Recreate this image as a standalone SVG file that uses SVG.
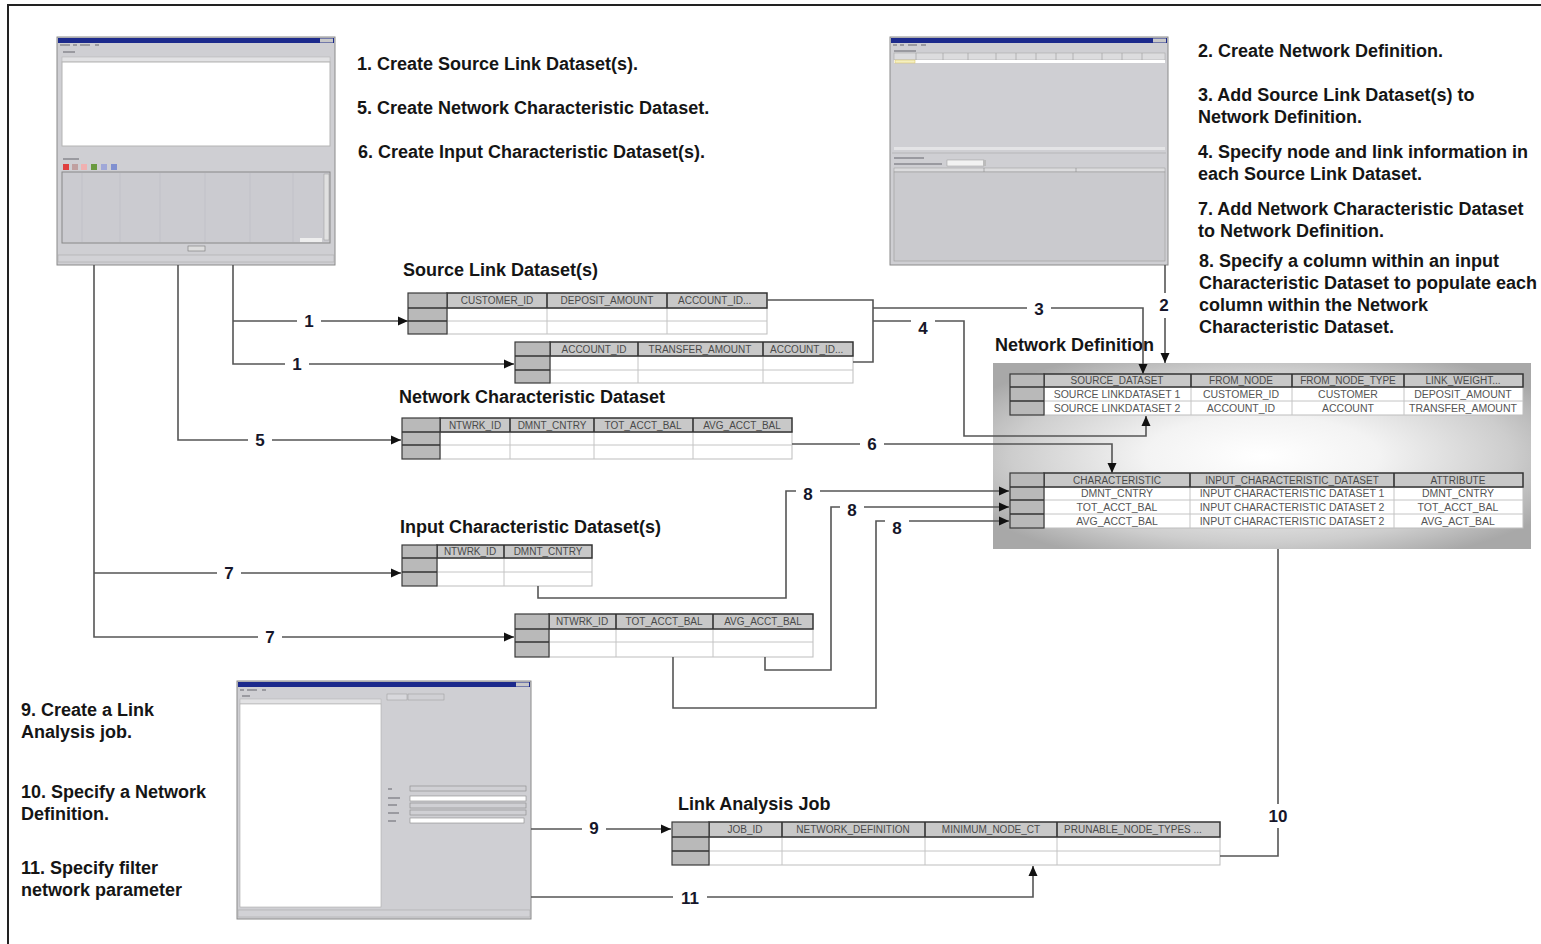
<svg xmlns="http://www.w3.org/2000/svg" width="1541" height="944" viewBox="0 0 1541 944">
<style>
.t{font-family:'Liberation Sans',Arial,sans-serif;font-weight:bold;font-size:18px;fill:#151515}
.lbl{font-family:'Liberation Sans',Arial,sans-serif;font-weight:bold;font-size:17px;fill:#16162a;text-anchor:middle}
.hd{font-family:'Liberation Sans',Arial,sans-serif;font-size:10px;fill:#4a4a4a;text-anchor:middle}
.cell{font-family:'Liberation Sans',Arial,sans-serif;font-size:10.5px;fill:#555;text-anchor:middle}
.stub{fill:#b9b9b9;stroke:#3a3a3a;stroke-width:1.2}
.hdr{fill:#c8c8c8;stroke:#333;stroke-width:1.5}
.data{fill:#fff;stroke:#bdbdbd;stroke-width:1}
.grid{stroke:#c4c4c4;stroke-width:1}
.dk{stroke:#333;stroke-width:1.6}
.conn{fill:none;stroke:#555;stroke-width:1.6}
.bg{fill:#fff}
.win{fill:#cfcfd3;stroke:#8a8a8a;stroke-width:1}
.ttl{fill:#1c2a8c}
.blur{fill:#9a9aa0}
</style>
<defs>
<marker id="arr" markerWidth="11" markerHeight="10" refX="10" refY="5" orient="auto" markerUnits="userSpaceOnUse">
<path d="M0,0.5 L10,5 L0,9.5 z" fill="#111"/>
</marker>
<radialGradient id="ndg" cx="0.5" cy="0.5" r="0.62">
<stop offset="0" stop-color="#ffffff"/>
<stop offset="0.35" stop-color="#f3f3f3"/>
<stop offset="0.75" stop-color="#cdcdcd"/>
<stop offset="1" stop-color="#a8a8a8"/>
</radialGradient>
</defs>
<rect x="0" y="0" width="1541" height="944" fill="#fff"/>
<path d="M8,944 V5 H1541" fill="none" stroke="#222" stroke-width="2"/>

<!-- Screenshot 1 -->
<g id="win-datasets">
<rect class="win" x="57" y="37" width="278" height="228"/>
<rect class="ttl" x="58" y="38" width="276" height="5"/>
<rect x="320" y="38.5" width="13" height="4" fill="#c8c8c8"/>
<rect class="blur" x="60" y="44" width="10" height="2"/><rect class="blur" x="73" y="44" width="4" height="2"/><rect class="blur" x="80" y="44" width="10" height="2"/><rect class="blur" x="95" y="44" width="4" height="2"/>
<rect class="blur" x="63" y="51" width="12" height="2"/>
<rect x="62" y="57" width="268" height="5" fill="#e2e2e4" stroke="#b0b0b0" stroke-width="0.5"/>
<rect x="62" y="62" width="268" height="84" fill="#fff" stroke="#b4b4b4"/>
<rect class="blur" x="63" y="158" width="16" height="2"/>
<rect x="63" y="164" width="6" height="6" fill="#e04040"/><rect x="72" y="164" width="6" height="6" fill="#c0a0a0"/><rect x="81" y="164" width="6" height="6" fill="#f0b0b0"/><rect x="91" y="164" width="6" height="6" fill="#6a9a40"/><rect x="101" y="164" width="6" height="6" fill="#a0a8d8"/><rect x="111" y="164" width="6" height="6" fill="#8090d0"/>
<rect x="62" y="172" width="268" height="71" fill="#cbcbd0" stroke="#888"/>
<g stroke="#bdbdc3" stroke-width="0.6"><line x1="82" y1="173" x2="82" y2="242"/><line x1="120" y1="173" x2="120" y2="242"/><line x1="160" y1="173" x2="160" y2="242"/><line x1="205" y1="173" x2="205" y2="242"/><line x1="250" y1="173" x2="250" y2="242"/><line x1="293" y1="173" x2="293" y2="242"/></g>
<rect x="324" y="174" width="5" height="66" fill="#e0e0e0" stroke="#999" stroke-width="0.5"/>
<rect x="300" y="238" width="22" height="4" fill="#eee"/>
<rect x="188" y="246" width="17" height="5" fill="#ddd" stroke="#777" stroke-width="0.6"/>
<rect x="58" y="255" width="276" height="7" fill="#d2d2d6" stroke="#aaa" stroke-width="0.6"/>
</g>

<!-- Screenshot 2 -->
<g id="win-network-definition">
<rect class="win" x="890" y="37" width="278" height="228"/>
<rect class="ttl" x="891" y="38" width="276" height="5"/>
<rect x="1153" y="38.5" width="13" height="4" fill="#c8c8c8"/>
<rect class="blur" x="893" y="44" width="4" height="2"/><rect class="blur" x="900" y="44" width="4" height="2"/><rect class="blur" x="908" y="44" width="9" height="2"/><rect class="blur" x="921" y="44" width="5" height="2"/>
<rect class="blur" x="894" y="50" width="22" height="2"/>
<rect x="894" y="53" width="271" height="7" fill="#dcdcde" stroke="#a0a0a0" stroke-width="0.5"/>
<g stroke="#999" stroke-width="0.6"><line x1="916" y1="53" x2="916" y2="60"/><line x1="943" y1="53" x2="943" y2="60"/><line x1="968" y1="53" x2="968" y2="60"/><line x1="996" y1="53" x2="996" y2="60"/><line x1="1016" y1="53" x2="1016" y2="60"/><line x1="1036" y1="53" x2="1036" y2="60"/><line x1="1056" y1="53" x2="1056" y2="60"/><line x1="1073" y1="53" x2="1073" y2="60"/><line x1="1102" y1="53" x2="1102" y2="60"/><line x1="1122" y1="53" x2="1122" y2="60"/><line x1="1142" y1="53" x2="1142" y2="60"/></g>
<rect x="894" y="60" width="271" height="3" fill="#fff"/>
<rect x="895" y="60" width="20" height="3" fill="#f5f0c0" stroke="#d8c060" stroke-width="0.5"/>
<rect x="894" y="147" width="271" height="3" fill="#e4e4e6"/>
<line x1="892" y1="153" x2="1166" y2="153" stroke="#aaa" stroke-width="0.6"/>
<rect class="blur" x="894" y="157" width="30" height="2"/>
<rect class="blur" x="894" y="163" width="48" height="2"/>
<rect x="947" y="160" width="37" height="6" fill="#f2f2f2" stroke="#999" stroke-width="0.5"/>
<rect x="983" y="160" width="3" height="6" fill="#bbb"/>
<rect x="894" y="168" width="271" height="4" fill="#dcdcde" stroke="#999" stroke-width="0.5"/>
<line x1="984" y1="168" x2="984" y2="172" stroke="#888" stroke-width="0.6"/><line x1="1076" y1="168" x2="1076" y2="172" stroke="#888" stroke-width="0.6"/>
<rect x="894" y="172" width="271" height="89" fill="#cacace" stroke="#999" stroke-width="0.6"/>
</g>

<!-- Screenshot 3 -->
<g id="win-link-analysis-job">
<rect class="win" x="237" y="681" width="294" height="238"/>
<rect class="ttl" x="238" y="682" width="292" height="5"/>
<rect x="516" y="682.5" width="13" height="4" fill="#c8c8c8"/>
<rect class="blur" x="240" y="689" width="4" height="2"/><rect class="blur" x="247" y="689" width="10" height="2"/><rect class="blur" x="262" y="689" width="4" height="2"/>
<rect class="blur" x="242" y="695" width="8" height="2"/>
<rect x="240" y="699" width="141" height="5" fill="#e2e2e4" stroke="#b0b0b0" stroke-width="0.5"/>
<rect x="240" y="704" width="141" height="203" fill="#fff" stroke="#aaa" stroke-width="0.6"/>
<rect x="387" y="694" width="20" height="6" fill="#d8d8dc" stroke="#999" stroke-width="0.5"/>
<rect x="408" y="694" width="36" height="6" fill="#d0d0d4" stroke="#999" stroke-width="0.5"/>
<rect class="blur" x="388" y="788" width="4" height="2"/><rect class="blur" x="388" y="797" width="12" height="2"/><rect class="blur" x="388" y="804" width="9" height="2"/><rect class="blur" x="388" y="812" width="11" height="2"/><rect class="blur" x="388" y="820" width="8" height="2"/>
<rect x="410" y="786" width="116" height="5" fill="#d0d0d4" stroke="#888" stroke-width="0.6"/>
<rect x="410" y="796" width="116" height="5" fill="#fff" stroke="#888" stroke-width="0.6"/>
<rect x="410" y="803" width="116" height="5" fill="#d0d0d4" stroke="#888" stroke-width="0.6"/>
<rect x="410" y="810" width="116" height="5" fill="#d0d0d4" stroke="#888" stroke-width="0.6"/>
<rect x="410" y="818" width="114" height="5" fill="#fff" stroke="#888" stroke-width="0.6"/>
<rect x="238" y="910" width="292" height="7" fill="#d2d2d6" stroke="#aaa" stroke-width="0.6"/>
</g>

<!-- Instruction texts -->
<g id="steps-top-left">
<text class="t" x="357" y="70">1. Create Source Link Dataset(s).</text>
<text class="t" x="357" y="114">5. Create Network Characteristic Dataset.</text>
<text class="t" x="358" y="158">6. Create Input Characteristic Dataset(s).</text>
</g>
<g id="steps-top-right">
<text class="t" x="1198" y="57">2. Create Network Definition.</text>
<text class="t" x="1198" y="101">3. Add Source Link Dataset(s) to</text>
<text class="t" x="1198" y="123">Network Definition.</text>
<text class="t" x="1198" y="158">4. Specify node and link information in</text>
<text class="t" x="1198" y="180">each Source Link Dataset.</text>
<text class="t" x="1198" y="215">7. Add Network Characteristic Dataset</text>
<text class="t" x="1198" y="237">to Network Definition.</text>
<text class="t" x="1199" y="267">8. Specify a column within an input</text>
<text class="t" x="1199" y="289">Characteristic Dataset to populate each</text>
<text class="t" x="1199" y="311">column within the Network</text>
<text class="t" x="1199" y="333">Characteristic Dataset.</text>
</g>
<g id="steps-bottom-left">
<text class="t" x="21" y="716">9. Create a Link</text>
<text class="t" x="21" y="738">Analysis job.</text>
<text class="t" x="21" y="798">10. Specify a Network</text>
<text class="t" x="21" y="820">Definition.</text>
<text class="t" x="21" y="874">11. Specify filter</text>
<text class="t" x="21" y="896">network parameter</text>
</g>

<!-- Source Link Dataset(s) -->
<g id="source-link-datasets">
<text class="t" x="403" y="276">Source Link Dataset(s)</text>
<rect class="data" x="447" y="308" width="320" height="26"/>
<line class="grid" x1="447" y1="321" x2="767" y2="321"/><line class="grid" x1="547" y1="308" x2="547" y2="334"/><line class="grid" x1="667" y1="308" x2="667" y2="334"/>
<rect class="hdr" x="447" y="293" width="320" height="15"/>
<line class="dk" x1="547" y1="293" x2="547" y2="308"/><line class="dk" x1="667" y1="293" x2="667" y2="308"/>
<rect class="stub" x="408" y="293" width="39" height="41"/>
<line class="dk" x1="408" y1="308" x2="447" y2="308"/><line class="dk" x1="408" y1="321" x2="447" y2="321"/>
<text class="hd" x="497" y="304">CUSTOMER_ID</text>
<text class="hd" x="607" y="304">DEPOSIT_AMOUNT</text>
<text class="hd" x="678" y="304" style="text-anchor:start">ACCOUNT_ID...</text>

<rect class="data" x="550" y="356" width="303" height="27"/>
<line class="grid" x1="550" y1="370" x2="853" y2="370"/><line class="grid" x1="638" y1="356" x2="638" y2="383"/><line class="grid" x1="763" y1="356" x2="763" y2="383"/>
<rect class="hdr" x="550" y="342" width="303" height="14"/>
<line class="dk" x1="638" y1="342" x2="638" y2="356"/><line class="dk" x1="763" y1="342" x2="763" y2="356"/>
<rect class="stub" x="515" y="342" width="35" height="41"/>
<line class="dk" x1="515" y1="356" x2="550" y2="356"/><line class="dk" x1="515" y1="370" x2="550" y2="370"/>
<text class="hd" x="594" y="352.5">ACCOUNT_ID</text>
<text class="hd" x="700" y="352.5">TRANSFER_AMOUNT</text>
<text class="hd" x="770" y="352.5" style="text-anchor:start">ACCOUNT_ID...</text>
</g>

<!-- Network Characteristic Dataset -->
<g id="network-characteristic-dataset">
<text class="t" x="399" y="403">Network Characteristic Dataset</text>
<rect class="data" x="440" y="432" width="352" height="27"/>
<line class="grid" x1="440" y1="445" x2="792" y2="445"/><line class="grid" x1="510" y1="432" x2="510" y2="459"/><line class="grid" x1="594" y1="432" x2="594" y2="459"/><line class="grid" x1="693" y1="432" x2="693" y2="459"/>
<rect class="hdr" x="440" y="418" width="352" height="14"/>
<line class="dk" x1="510" y1="418" x2="510" y2="432"/><line class="dk" x1="594" y1="418" x2="594" y2="432"/><line class="dk" x1="693" y1="418" x2="693" y2="432"/>
<rect class="stub" x="402" y="418" width="38" height="41"/>
<line class="dk" x1="402" y1="432" x2="440" y2="432"/><line class="dk" x1="402" y1="445" x2="440" y2="445"/>
<text class="hd" x="475" y="428.5">NTWRK_ID</text>
<text class="hd" x="552" y="428.5">DMNT_CNTRY</text>
<text class="hd" x="643" y="428.5">TOT_ACCT_BAL</text>
<text class="hd" x="742" y="428.5">AVG_ACCT_BAL</text>
</g>

<!-- Input Characteristic Dataset(s) -->
<g id="input-characteristic-datasets">
<text class="t" x="400" y="533">Input Characteristic Dataset(s)</text>
<rect class="data" x="437" y="558" width="155" height="28"/>
<line class="grid" x1="437" y1="572" x2="592" y2="572"/><line class="grid" x1="504" y1="558" x2="504" y2="586"/>
<rect class="hdr" x="437" y="545" width="155" height="13"/>
<line class="dk" x1="504" y1="545" x2="504" y2="558"/>
<rect class="stub" x="402" y="545" width="35" height="41"/>
<line class="dk" x1="402" y1="558" x2="437" y2="558"/><line class="dk" x1="402" y1="572" x2="437" y2="572"/>
<text class="hd" x="470" y="555">NTWRK_ID</text>
<text class="hd" x="548" y="555">DMNT_CNTRY</text>

<rect class="data" x="549" y="629" width="264" height="28"/>
<line class="grid" x1="549" y1="642" x2="813" y2="642"/><line class="grid" x1="616" y1="629" x2="616" y2="657"/><line class="grid" x1="713" y1="629" x2="713" y2="657"/>
<rect class="hdr" x="549" y="614" width="264" height="15"/>
<line class="dk" x1="616" y1="614" x2="616" y2="629"/><line class="dk" x1="713" y1="614" x2="713" y2="629"/>
<rect class="stub" x="515" y="614" width="34" height="43"/>
<line class="dk" x1="515" y1="629" x2="549" y2="629"/><line class="dk" x1="515" y1="642" x2="549" y2="642"/>
<text class="hd" x="582" y="625">NTWRK_ID</text>
<text class="hd" x="664" y="625">TOT_ACCT_BAL</text>
<text class="hd" x="763" y="625">AVG_ACCT_BAL</text>
</g>

<!-- Network Definition -->
<g id="network-definition">
<text class="t" x="995" y="351">Network Definition</text>
<rect x="993" y="363" width="538" height="186" fill="url(#ndg)"/>
<rect class="data" x="1044" y="387" width="479" height="28"/>
<line class="grid" x1="1044" y1="401" x2="1523" y2="401"/><line class="grid" x1="1191" y1="387" x2="1191" y2="415"/><line class="grid" x1="1292" y1="387" x2="1292" y2="415"/><line class="grid" x1="1404" y1="387" x2="1404" y2="415"/>
<rect class="hdr" x="1044" y="374" width="479" height="13"/>
<line class="dk" x1="1191" y1="374" x2="1191" y2="387"/><line class="dk" x1="1292" y1="374" x2="1292" y2="387"/><line class="dk" x1="1404" y1="374" x2="1404" y2="387"/>
<rect class="stub" x="1010" y="374" width="34" height="41"/>
<line class="dk" x1="1010" y1="387" x2="1044" y2="387"/><line class="dk" x1="1010" y1="401" x2="1044" y2="401"/>
<text class="hd" x="1117" y="384">SOURCE_DATASET</text>
<text class="hd" x="1241" y="384">FROM_NODE</text>
<text class="hd" x="1348" y="384">FROM_NODE_TYPE</text>
<text class="hd" x="1463" y="384">LINK_WEIGHT...</text>
<text class="cell" x="1117" y="398">SOURCE LINKDATASET 1</text>
<text class="cell" x="1241" y="398">CUSTOMER_ID</text>
<text class="cell" x="1348" y="398">CUSTOMER</text>
<text class="cell" x="1463" y="398">DEPOSIT_AMOUNT</text>
<text class="cell" x="1117" y="412">SOURCE LINKDATASET 2</text>
<text class="cell" x="1241" y="412">ACCOUNT_ID</text>
<text class="cell" x="1348" y="412">ACCOUNT</text>
<text class="cell" x="1463" y="412">TRANSFER_AMOUNT</text>

<rect class="data" x="1044" y="487" width="479" height="41"/>
<line class="grid" x1="1044" y1="500" x2="1523" y2="500"/><line class="grid" x1="1044" y1="514" x2="1523" y2="514"/><line class="grid" x1="1190" y1="487" x2="1190" y2="528"/><line class="grid" x1="1394" y1="487" x2="1394" y2="528"/>
<rect class="hdr" x="1044" y="473" width="479" height="14"/>
<line class="dk" x1="1190" y1="473" x2="1190" y2="487"/><line class="dk" x1="1394" y1="473" x2="1394" y2="487"/>
<rect class="stub" x="1010" y="473" width="34" height="55"/>
<line class="dk" x1="1010" y1="487" x2="1044" y2="487"/><line class="dk" x1="1010" y1="500" x2="1044" y2="500"/><line class="dk" x1="1010" y1="514" x2="1044" y2="514"/>
<text class="hd" x="1117" y="483.5">CHARACTERISTIC</text>
<text class="hd" x="1292" y="483.5">INPUT_CHARACTERISTIC_DATASET</text>
<text class="hd" x="1458" y="483.5">ATTRIBUTE</text>
<text class="cell" x="1117" y="497">DMNT_CNTRY</text>
<text class="cell" x="1292" y="497">INPUT CHARACTERISTIC DATASET 1</text>
<text class="cell" x="1458" y="497">DMNT_CNTRY</text>
<text class="cell" x="1117" y="511">TOT_ACCT_BAL</text>
<text class="cell" x="1292" y="511">INPUT CHARACTERISTIC DATASET 2</text>
<text class="cell" x="1458" y="511">TOT_ACCT_BAL</text>
<text class="cell" x="1117" y="525">AVG_ACCT_BAL</text>
<text class="cell" x="1292" y="525">INPUT CHARACTERISTIC DATASET 2</text>
<text class="cell" x="1458" y="525">AVG_ACT_BAL</text>
</g>

<!-- Link Analysis Job -->
<g id="link-analysis-job">
<text class="t" x="678" y="810">Link Analysis Job</text>
<rect class="data" x="709" y="837" width="511" height="28"/>
<line class="grid" x1="709" y1="851" x2="1220" y2="851"/><line class="grid" x1="782" y1="837" x2="782" y2="865"/><line class="grid" x1="925" y1="837" x2="925" y2="865"/><line class="grid" x1="1057" y1="837" x2="1057" y2="865"/>
<rect class="hdr" x="709" y="822" width="511" height="15"/>
<line class="dk" x1="782" y1="822" x2="782" y2="837"/><line class="dk" x1="925" y1="822" x2="925" y2="837"/><line class="dk" x1="1057" y1="822" x2="1057" y2="837"/>
<rect class="stub" x="672" y="822" width="37" height="43"/>
<line class="dk" x1="672" y1="837" x2="709" y2="837"/><line class="dk" x1="672" y1="851" x2="709" y2="851"/>
<text class="hd" x="745" y="833">JOB_ID</text>
<text class="hd" x="853" y="833">NETWORK_DEFINITION</text>
<text class="hd" x="991" y="833">MINIMUM_NODE_CT</text>
<text class="hd" x="1133" y="833">PRUNABLE_NODE_TYPES ...</text>
</g>

<!-- Connectors -->
<g id="connectors">
<path class="conn" d="M233,265 V364 H514" marker-end="url(#arr)"/>
<path class="conn" d="M233,321 H408" marker-end="url(#arr)"/>
<path class="conn" d="M178,265 V440 H401" marker-end="url(#arr)"/>
<path class="conn" d="M94,265 V637 H514" marker-end="url(#arr)"/>
<path class="conn" d="M94,573 H401" marker-end="url(#arr)"/>
<path class="conn" d="M767,300 H873 V362 H853"/>
<path class="conn" d="M873,308 H1143 V374" marker-end="url(#arr)"/>
<path class="conn" d="M873,321 H964 V436 H1146 V416" marker-end="url(#arr)"/>
<path class="conn" d="M1165,265 V363" marker-end="url(#arr)"/>
<path class="conn" d="M792,444 H1112 V473" marker-end="url(#arr)"/>
<path class="conn" d="M538,586 V598 H786 V491 H1009" marker-end="url(#arr)"/>
<path class="conn" d="M765,657 V670 H831 V507 H1009" marker-end="url(#arr)"/>
<path class="conn" d="M673,657 V708 H876 V521 H1009" marker-end="url(#arr)"/>
<path class="conn" d="M531,829 H671" marker-end="url(#arr)"/>
<path class="conn" d="M531,897 H1033 V866" marker-end="url(#arr)"/>
<path class="conn" d="M1278,549 V856 H1220"/>

<rect class="bg" x="297" y="311" width="24" height="20"/><text class="lbl" x="309" y="327">1</text>
<rect class="bg" x="285" y="354" width="24" height="20"/><text class="lbl" x="297" y="370">1</text>
<rect class="bg" x="248" y="430" width="24" height="20"/><text class="lbl" x="260" y="446">5</text>
<rect class="bg" x="217" y="563" width="24" height="20"/><text class="lbl" x="229" y="579">7</text>
<rect class="bg" x="258" y="627" width="24" height="20"/><text class="lbl" x="270" y="643">7</text>
<rect class="bg" x="1027" y="299" width="24" height="20"/><text class="lbl" x="1039" y="315">3</text>
<rect class="bg" x="911" y="316" width="24" height="22"/><text class="lbl" x="923" y="334">4</text>
<rect class="bg" x="1154" y="293" width="20" height="25"/><text class="lbl" x="1164" y="311">2</text>
<rect class="bg" x="860" y="434" width="24" height="20"/><text class="lbl" x="872" y="450">6</text>
<rect class="bg" x="796" y="484" width="24" height="20"/><text class="lbl" x="808" y="500">8</text>
<rect class="bg" x="840" y="500" width="24" height="20"/><text class="lbl" x="852" y="516">8</text>
<rect class="bg" x="885" y="515" width="24" height="22"/><text class="lbl" x="897" y="534">8</text>
<rect class="bg" x="582" y="818" width="24" height="20"/><text class="lbl" x="594" y="834">9</text>
<rect class="bg" x="673" y="888" width="34" height="20"/><text class="lbl" x="690" y="904">11</text>
<rect class="bg" x="1264" y="804" width="30" height="24"/><text class="lbl" x="1278" y="822">10</text>
</g>
</svg>
